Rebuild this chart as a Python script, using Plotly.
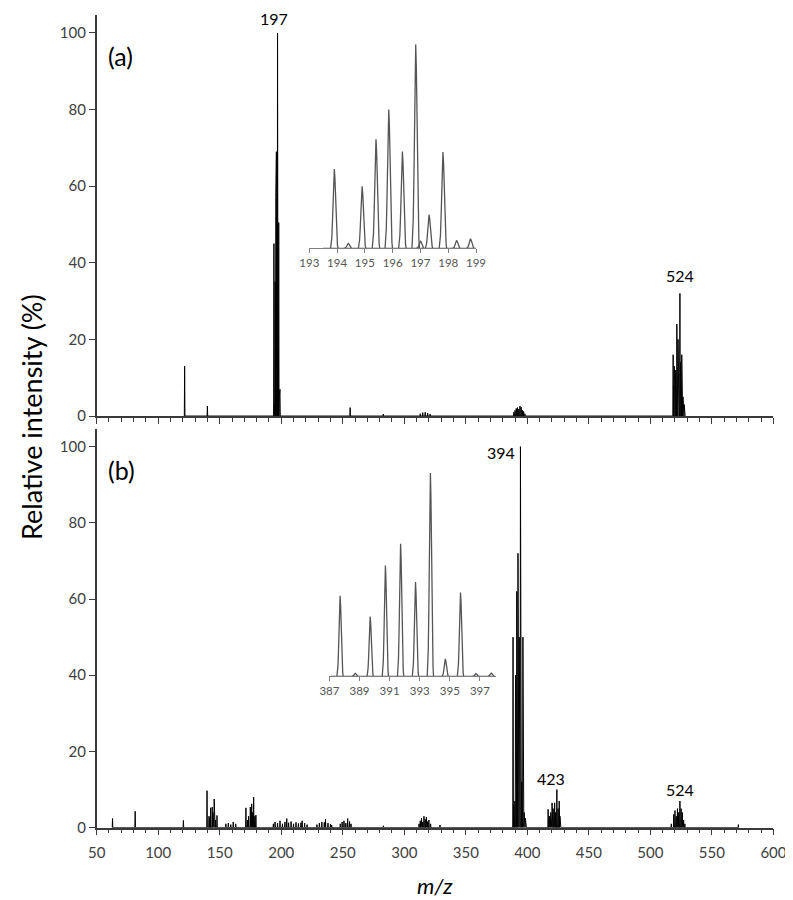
import plotly.graph_objects as go

W, H = 793, 900

# ---------------- data ----------------
# panel (a) main spectrum: m/z and relative intensity (%)
mz_a = [121.5, 140.0,
        194.07, 194.57, 195.07, 195.57, 196.07, 196.52, 197.0, 197.17, 197.47, 197.97, 198.47, 198.97,
        256.0, 283.0,
        313.0, 315.0, 317.0, 319.0, 321.0,
        389.0, 390.0, 391.0, 392.0, 393.0, 394.0, 395.0, 396.0, 397.0, 398.0,
        518.5, 519.0, 519.5, 520.5, 521.5, 522.0, 522.5, 523.0, 524.0, 524.5, 525.5, 526.0, 526.5, 527.5, 528.0]
int_a = [13, 2.6,
         45, 3, 35, 57, 69, 50, 100, 4, 18, 50.5, 5, 7,
         2.2, 0.5,
         0.6, 0.9, 1.0, 0.8, 0.5,
         1.0, 1.5, 2.0, 2.2, 1.8, 2.6, 2.3, 1.5, 1.2, 0.6,
         16, 8, 13, 12, 24, 14, 20, 12, 32, 14, 16, 8, 5, 3, 1.5]

# panel (b) main spectrum
mz_b = [62.9, 81.3, 120.5, 139.7,
        141.3, 141.9, 142.6, 143.9, 144.5, 145.5, 146.5, 147.8,
        155, 157, 159, 161, 163,
        171.3, 172.5, 173.5, 174.9, 176.0, 176.8, 177.6, 178.5, 179.4,
        193.6, 195, 197, 199, 201, 203, 204.5, 206, 208, 210, 212, 214, 216, 217, 219, 221,
        229, 231, 233, 235, 236, 238, 240, 241,
        248, 249.5, 251, 252.5, 254, 255.5, 256.7,
        283,
        312, 313, 314, 315, 316, 317, 318, 319, 320, 321.4,
        329,
        388.4, 388.9, 389.4, 389.9, 390.4, 390.9, 391.4, 391.9, 392.4, 392.9, 393.4,
        393.9, 394.4, 394.9, 395.4, 395.9, 396.4, 396.9, 397.4, 397.9, 398.4, 399.0,
        416.9, 417.5, 418, 418.5, 419, 420.1, 421, 422.2, 423, 424, 425, 425.9, 426.5, 427,
        517, 519, 520, 521, 522, 523, 524, 525, 526, 527, 528,
        571.5]
int_b = [2.4, 4.3, 1.9, 9.7,
         3, 2.5, 5.2, 5.4, 4, 7.5, 2, 3.2,
         1, 1.2, 0.8, 1.5, 1,
         5.2, 2, 3, 5.4, 6.25, 4, 8, 3, 3.3,
         1, 1.5, 1.2, 1.8, 1, 1.5, 2.4, 1.3, 1.6, 1, 1.4, 1.1, 1.3, 1.8, 1.2, 0.8,
         0.8, 1.2, 1.5, 1.4, 2.2, 1.2, 0.9, 0.7,
         1, 1.5, 1.8, 1.2, 2.4, 1.6, 1,
         0.5,
         1, 1.8, 2.5, 1.5, 3, 2.2, 2.8, 1.6, 2.0, 1,
         0.7,
         50, 6, 5, 7, 40, 8, 62, 10, 72, 12, 50,
         15, 100, 10, 12, 6, 50, 5, 4, 3, 2.5, 1.5,
         4.8, 2, 3, 2.5, 4, 6.5, 5, 6.5, 4, 10, 5, 7, 3, 1.5,
         1, 3.5, 4.5, 3, 5, 4, 7, 5, 4, 2, 1,
         0.8]

# inset (a) isotope pattern
ins_a_mz = [193.9, 194.4, 194.9, 195.4, 195.86, 196.35, 196.83, 197.0, 197.31, 197.81, 198.3, 198.8]
ins_a_int = [38.9, 2.4, 30.4, 53.5, 68.1, 47.5, 100, 3.6, 16.5, 47.2, 3.9, 4.7]
ins_a_span = [193.5, 199.0]

# inset (b) isotope pattern
ins_b_mz = [387.71, 388.72, 389.71, 390.72, 391.73, 392.72, 393.71, 394.70, 395.71, 396.74, 397.75]
ins_b_int = [39.6, 1.5, 29.4, 54.4, 65.1, 46.3, 100, 8.6, 41.2, 1.3, 1.6]
ins_b_span = [387.1, 398.0]

x_ticks = [50, 100, 150, 200, 250, 300, 350, 400, 450, 500, 550, 600]
y_ticks = [0, 20, 40, 60, 80, 100]
ins_a_ticks = [193, 194, 195, 196, 197, 198, 199]
ins_b_ticks = [387, 389, 391, 393, 395, 397]

peak_labels_a = [("197", 197), ("524", 524)]
peak_labels_b = [("394", 394), ("423", 423), ("524", 524)]

# ---------------- helpers ----------------
def px(x):
    return x / W

def py(y):
    return 1 - y / H

def sticks(mz, inten, half=0.25):
    xs, ys = [], []
    for m, h in sorted(zip(mz, inten)):
        xs += [m - half, m, m + half]
        ys += [0, h, 0]
    return xs, ys

# peak line-shape template (offsets in widths, relative height)
SHAPE_K = [-3, -2.5, -2, -1.5, -1, -0.5, 0, 0.5, 1, 1.5, 2, 2.5, 3]
SHAPE_F = [0, 0.044, 0.135, 0.325, 0.607, 0.882, 1, 0.882, 0.607, 0.325, 0.135, 0.044, 0]

def profile(mz, inten, w):
    xs, ys = [], []
    for m, h in zip(mz, inten):
        for k, f in zip(SHAPE_K, SHAPE_F):
            xs.append(m + k * w)
            ys.append(h * f)
        xs.append(None)
        ys.append(None)
    return xs, ys

FONT = "Lato, 'Open Sans', sans-serif"
AX_COL = "#3a3a3a"
TICK_COL = "#404040"
INSET_COL = "#555555"

fig = go.Figure()

xa, ya = sticks(mz_a, int_a)
fig.add_trace(go.Scatter(x=xa, y=ya, mode="lines", line=dict(color="black", width=1),
                         xaxis="x", yaxis="y", hoverinfo="skip"))
xb, yb = sticks(mz_b, int_b)
fig.add_trace(go.Scatter(x=xb, y=yb, mode="lines", line=dict(color="black", width=1),
                         xaxis="x2", yaxis="y2", hoverinfo="skip"))

# insets
pxa, pya = profile(ins_a_mz, ins_a_int, 0.045)
fig.add_trace(go.Scatter(x=ins_a_span, y=[0, 0], mode="lines", line=dict(color=INSET_COL, width=1.2),
                         xaxis="x3", yaxis="y3", hoverinfo="skip"))
fig.add_trace(go.Scatter(x=pxa, y=pya, mode="lines", line=dict(color=INSET_COL, width=1.3),
                         xaxis="x3", yaxis="y3", hoverinfo="skip", connectgaps=False))
pxb, pyb = profile(ins_b_mz, ins_b_int, 0.07)
fig.add_trace(go.Scatter(x=ins_b_span, y=[0, 0], mode="lines", line=dict(color=INSET_COL, width=1.2),
                         xaxis="x4", yaxis="y4", hoverinfo="skip"))
fig.add_trace(go.Scatter(x=pxb, y=pyb, mode="lines", line=dict(color=INSET_COL, width=1.3),
                         xaxis="x4", yaxis="y4", hoverinfo="skip", connectgaps=False))

main_x = dict(domain=[px(81), px(778)], range=[50, 600], tickmode="array", tickvals=x_ticks,
              ticks="outside", ticklen=6, tickwidth=1.3, tickcolor=AX_COL,
              minor=dict(dtick=10, tick0=50, ticks="outside", ticklen=4, tickwidth=1.1, tickcolor=AX_COL),
              showline=True, linecolor=AX_COL, linewidth=1.6, showgrid=False, zeroline=False,
              tickfont=dict(family=FONT, size=15, color=TICK_COL))
main_y = dict(range=[0, 104.7], tickmode="array", tickvals=y_ticks,
              ticks="outside", ticklen=6, tickwidth=1.3, tickcolor=AX_COL,
              showline=True, linecolor=AX_COL, linewidth=1.6, showgrid=False, zeroline=False,
              tickfont=dict(family=FONT, size=15, color=TICK_COL))

inset_x = dict(ticks="outside", ticklen=4, tickwidth=1, tickcolor="#808080",
               showline=True, linecolor="#808080", linewidth=1, showgrid=False, zeroline=False,
               tickfont=dict(family=FONT, size=11.5, color="#555555"), tickmode="array")

fig.update_layout(
    width=W, height=H, margin=dict(l=0, r=0, t=0, b=0),
    paper_bgcolor="white", plot_bgcolor="rgba(0,0,0,0)", showlegend=False,
    xaxis=dict(main_x, anchor="y", showticklabels=False),
    yaxis=dict(main_y, anchor="x", domain=[py(411.7), py(7)]),
    xaxis2=dict(main_x, anchor="y2", showticklabels=True, ticklabelstandoff=5),
    yaxis2=dict(main_y, anchor="x2", domain=[py(827), py(424.5)]),
    xaxis3=dict(inset_x, anchor="y3", domain=[px(300), px(471.7)], range=[193, 199], tickvals=ins_a_ticks),
    yaxis3=dict(anchor="x3", domain=[py(242.5), py(36.7)], range=[0, 100], visible=False),
    xaxis4=dict(inset_x, anchor="y4", domain=[px(320.7), px(492)], range=[387, 398.05], tickvals=ins_b_ticks),
    yaxis4=dict(anchor="x4", domain=[py(674.3), py(469)], range=[0, 100], visible=False),
)

ann = []
def add_text(text, x, y, size, color="black", yanchor="middle", **kw):
    ann.append(dict(text=text, x=px(x), y=py(y), xref="paper", yref="paper", showarrow=False,
                    xanchor=kw.pop("xanchor", "center"), yanchor=yanchor, borderpad=0,
                    font=dict(family=FONT, size=size, color=color), **kw))

# peak labels
label_pos_a = {"197": (-4, 0, "top"), "524": (0, 270, "middle")}
label_pos_b = {"394": (-20, 448, "middle"), "423": (-5, 777, "middle"), "524": (0, 789, "middle")}
def mz_to_px(m):
    return 81 + (m - 50) * (778 - 81) / 550.0
for t, m in peak_labels_a:
    dx, yy, ya_ = label_pos_a[t]
    add_text(t, mz_to_px(m) + dx, yy, 16, yanchor=ya_)
for t, m in peak_labels_b:
    dx, yy, ya_ = label_pos_b[t]
    add_text(t, mz_to_px(m) + dx, yy, 16, yanchor=ya_)

add_text("(a)", 92, 48, 25, xanchor="left")
add_text("(b)", 92, 466, 25, xanchor="left")
add_text("<i>m/z</i>", 429.5, 900, 22, yanchor="bottom")
add_text("Relative intensity (%)", 14, 413, 27, textangle=-90)

fig.update_layout(annotations=ann)
fig.write_html("out.html")
